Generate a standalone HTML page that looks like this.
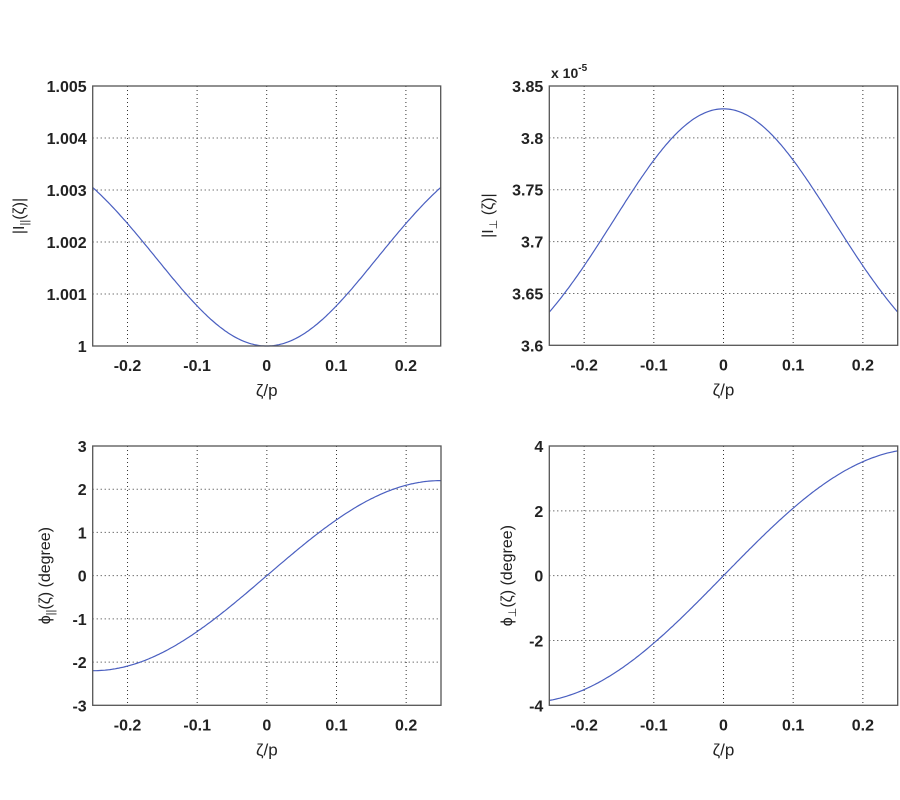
<!DOCTYPE html>
<html><head><meta charset="utf-8"><style>
body{margin:0;background:#fff;}
svg{display:block;font-family:"Liberation Sans",Arial,sans-serif;}
.t{font-size:16px;font-weight:bold;fill:#222;}
</style></head><body>
<svg id="s" width="900" height="800" xmlns="http://www.w3.org/2000/svg"></svg>
<script>
const s=document.getElementById('s');let h='';
function plot(L,R,T,B,ymin,ymax,yt,ylabs,f,ylab,ylx){
  const X=x=>L+(x+0.25)/0.5*(R-L), Y=y=>B-(y-ymin)/(ymax-ymin)*(B-T);
  [-0.2,-0.1,0,0.1,0.2].forEach((v,i)=>{const x=X(v);
    h+=`<line x1="${x}" y1="${T}" x2="${x}" y2="${B}" stroke="#333" stroke-width="1" stroke-dasharray="1,3"/>`;
    h+=`<text class="t" x="${x}" y="${B+25}" text-anchor="middle">${['-0.2','-0.1','0','0.1','0.2'][i]}</text>`;});
  yt.forEach((v,i)=>{const y=Y(v);
    if(i>0&&i<yt.length-1)h+=`<line x1="${L}" y1="${y}" x2="${R}" y2="${y}" stroke="#333" stroke-width="1" stroke-dasharray="1,3"/>`;
    h+=`<text class="t" x="${L-6}" y="${y+6}" text-anchor="end">${ylabs[i]}</text>`;});
  let p=[];for(let i=0;i<=200;i++){const x=-0.25+i*0.0025;p.push(X(x).toFixed(1)+','+Y(f(x)).toFixed(1));}
  h+=`<polyline points="${p.join(' ')}" fill="none" stroke="#4a5fc0" stroke-width="1.2"/>`;
  h+=`<rect x="${L}" y="${T}" width="${R-L}" height="${B-T}" fill="none" stroke="#555" stroke-width="1.3"/>`;
  h+=`<text class="t" x="${(L+R)/2}" y="${B+50}" text-anchor="middle" style="font-weight:normal;font-size:17px">ζ/p</text>`;
  h+=`<text x="0" y="0" transform="translate(${ylx},${(T+B)/2}) rotate(-90)" text-anchor="middle" style="font-size:16px" fill="#222">${ylab}</text>`;
}
const m=x=>0.5*Math.pow(x/0.25,2)+0.5*Math.pow(Math.sin(2*Math.PI*x),2);
plot(92.7,440.7,86,346,1,1.005,[1,1.001,1.002,1.003,1.004,1.005],['1','1.001','1.002','1.003','1.004','1.005'],x=>1+0.00305*m(x),'|I<tspan font-size="11" dy="4">||</tspan><tspan dy="-4">(ζ)|</tspan>',24);
plot(549.3,897.7,86,345.3,3.6,3.85,[3.6,3.65,3.7,3.75,3.8,3.85],['3.6','3.65','3.7','3.75','3.8','3.85'],x=>3.828-0.196*m(x),'|I<tspan font-size="11" dy="4">⊥</tspan><tspan dy="-4"> (ζ)|</tspan>',493);
plot(92.7,441,446,705.3,-3,3,[-3,-2,-1,0,1,2,3],['-3','-2','-1','0','1','2','3'],x=>2.2*Math.sin(2*Math.PI*x),'ϕ<tspan font-size="11" dy="4">||</tspan><tspan dy="-4">(ζ) (degree)</tspan>',50);
plot(549.3,897.7,446,705.3,-4,4,[-4,-2,0,2,4],['-4','-2','0','2','4'],x=>3.85*(0.75*Math.sin(2*Math.PI*x)+0.25*x/0.25),'ϕ<tspan font-size="11" dy="4">⊥</tspan><tspan dy="-4">(ζ) (degree)</tspan>',512);
h+=`<text x="551" y="78" style="font-size:14px;font-weight:bold" fill="#222">x 10<tspan font-size="10" dy="-7">-5</tspan></text>`;
s.innerHTML=h;
</script>
</body></html>
